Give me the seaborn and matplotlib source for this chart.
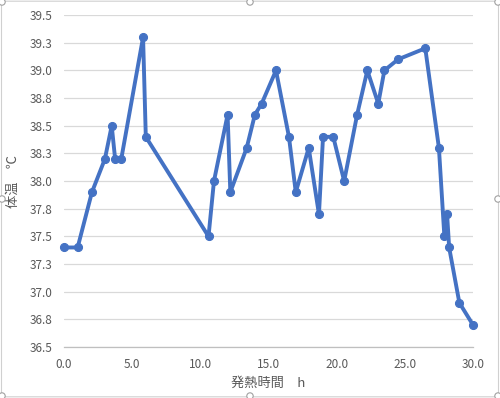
import matplotlib
matplotlib.use("Agg")
import matplotlib.pyplot as plt
from matplotlib.patches import FancyBboxPatch, Circle
import seaborn as sns
import pandas as pd

hours = [0.0, 1.0, 2.05, 3.0, 3.5, 3.75, 4.2, 5.8, 6.0, 10.6, 11.0, 12.0, 12.2,
         13.4, 14.0, 14.5, 15.55, 16.5, 17.0, 17.95, 18.7, 19.0, 19.75, 20.55,
         21.5, 22.25, 23.05, 23.5, 24.5, 26.5, 27.5, 27.9, 28.1, 28.25, 29.0, 30.0]
temps = [37.4, 37.4, 37.9, 38.2, 38.5, 38.2, 38.2, 39.3, 38.4, 37.5, 38.0, 38.6, 37.9,
         38.3, 38.6, 38.7, 39.0, 38.4, 37.9, 38.3, 37.7, 38.4, 38.4, 38.0,
         38.6, 39.0, 38.7, 39.0, 39.1, 39.2, 38.3, 37.5, 37.7, 37.4, 36.9, 36.7]

x_ticks = [0, 5, 10, 15, 20, 25, 30]
x_tick_labels = ["0.0", "5.0", "10.0", "15.0", "20.0", "25.0", "30.0"]
y_ticks = [36.5, 36.75, 37.0, 37.25, 37.5, 37.75, 38.0, 38.25, 38.5, 38.75, 39.0, 39.25, 39.5]
y_tick_labels = ["36.5", "36.8", "37.0", "37.3", "37.5", "37.8", "38.0", "38.3",
                 "38.5", "38.8", "39.0", "39.3", "39.5"]
x_label = "発熱時間　h"
y_label = "体温　℃"

sns.set_theme(style="white")
plt.rcParams["font.family"] = ["Noto Sans CJK JP", "DejaVu Sans"]

df = pd.DataFrame({"h": hours, "t": temps})

fig = plt.figure(figsize=(5.0, 3.98), dpi=100)
ax = fig.add_axes([0.128, 0.128, 0.818, 0.834])

line_color = "#4472C4"
sns.lineplot(data=df, x="h", y="t", sort=False, estimator=None, ax=ax,
             color=line_color, linewidth=2.8, marker="o", markersize=5.8,
             markeredgecolor=line_color, markerfacecolor=line_color, zorder=3,
             clip_on=False)

ax.set_xlim(0, 30)
ax.set_ylim(36.5, 39.5)
ax.set_xticks(x_ticks)
ax.set_xticklabels(x_tick_labels)
ax.set_yticks(y_ticks)
ax.set_yticklabels(y_tick_labels)
ax.tick_params(axis="y", length=0, labelsize=8.5, colors="#595959", pad=8)
ax.tick_params(axis="x", length=0, labelsize=8.5, colors="#595959", pad=8)
ax.grid(axis="y", color="#D9D9D9", linewidth=0.9)
ax.grid(axis="x", visible=False)
for s in ["top", "right", "left"]:
    ax.spines[s].set_visible(False)
ax.spines["bottom"].set_color("#BFBFBF")
ax.spines["bottom"].set_linewidth(0.9)

ax.set_xlabel(x_label, fontsize=9.5, color="#595959", labelpad=4)
ax.set_ylabel(y_label, fontsize=9.5, color="#595959", labelpad=7)

# chart area border and selection handles
border = FancyBboxPatch((0.003, 0.003), 0.994, 0.994, boxstyle="round,pad=0,rounding_size=0.01",
                        transform=fig.transFigure, fill=False, edgecolor="#D0D0D0",
                        linewidth=0.8)
fig.patches.append(border)
for (hx, hy) in [(0.004, 0.995), (0.5, 0.995), (0.996, 0.995), (0.004, 0.5),
                 (0.996, 0.5), (0.004, 0.005), (0.5, 0.005), (0.996, 0.005)]:
    c = Circle((hx * 500, hy * 398), 3.2, transform=None, facecolor="white",
               edgecolor="#A0A0A0", linewidth=0.8)
    fig.patches.append(c)

fig.savefig("out.png", dpi=100)
